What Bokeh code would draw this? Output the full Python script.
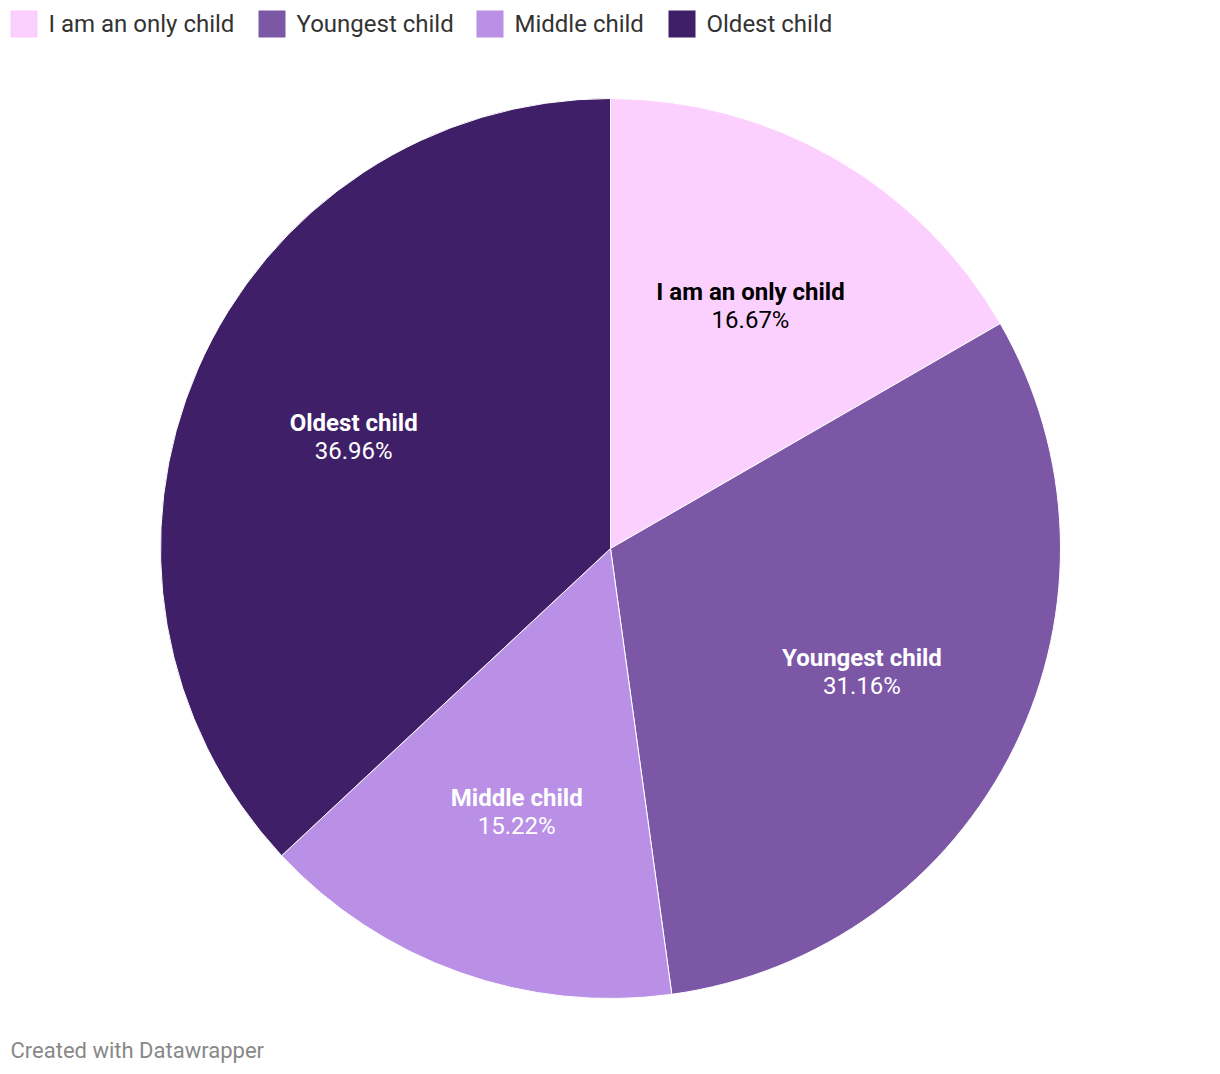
import math
from bokeh.plotting import figure
from bokeh.models import Range1d, ColumnDataSource
from bokeh.core.properties import value
from bokeh.embed import file_html
from bokeh.resources import INLINE

categories = ["I am an only child", "Youngest child", "Middle child", "Oldest child"]
shares = [16.67, 31.16, 15.22, 36.96]
colors = ["#FCD0FE", "#7B57A6", "#B990E5", "#3F1F67"]
label_colors = ["#000000", "#ffffff", "#ffffff", "#ffffff"]

W, H = 1204, 1066
p = figure(width=W, height=H, output_backend="svg", toolbar_location=None,
           x_range=Range1d(0, W), y_range=Range1d(0, H), min_border=0)
p.axis.visible = False
p.grid.visible = False
p.outline_line_color = None
p.background_fill_color = "white"

cx, cy, R = 610, H - 548, 450
total = sum(shares)
starts, ends, lx, ly = [], [], [], []
acc = 0.0
for s in shares:
    a0 = math.pi / 2 - 2 * math.pi * acc / total
    a1 = math.pi / 2 - 2 * math.pi * (acc + s) / total
    starts.append(a0)
    ends.append(a1)
    mid = (a0 + a1) / 2
    lx.append(cx + 280 * math.cos(mid))
    ly.append(cy + 280 * math.sin(mid))
    acc += s

src = ColumnDataSource(dict(start=starts, end=ends, color=colors,
                            lx=lx, ly_name=[y + 14 for y in ly], ly_pct=[y - 14 for y in ly],
                            name=categories, pct=["%.2f%%" % s for s in shares],
                            tcolor=label_colors))
p.wedge(x=cx, y=cy, radius=R, start_angle="start", end_angle="end", direction="clock",
        fill_color="color", line_color="white", line_width=1, source=src)

p.text(x="lx", y="ly_name", text="name", source=src, text_color="tcolor",
       text_font=value("Roboto"), text_font_style="bold", text_font_size="24px",
       text_align="center", text_baseline="middle")
p.text(x="lx", y="ly_pct", text="pct", source=src, text_color="tcolor",
       text_font=value("Roboto"), text_font_size="24px",
       text_align="center", text_baseline="middle")

# legend
leg_x = [10, 258, 476, 668]
sq = 27
p.rect(x=[x + sq / 2 for x in leg_x], y=[H - 10 - sq / 2] * 4, width=sq, height=sq,
       fill_color=colors, line_color=None)
p.text(x=[x + 38 for x in leg_x], y=[H - 10 - sq / 2] * 4, text=categories,
       text_color="#333333", text_font=value("Roboto"), text_font_size="24px",
       text_align="left", text_baseline="middle")

p.text(x=[10], y=[H - 1050], text=["Created with Datawrapper"], text_color="#888888",
       text_font=value("Roboto"), text_font_size="22px", text_align="left",
       text_baseline="middle")

open("out.html", "w").write(file_html(p, INLINE))
